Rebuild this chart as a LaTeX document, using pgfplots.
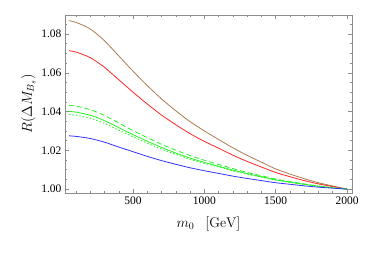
\documentclass[border=0pt]{standalone}
\usepackage{pgfplots}
\pgfplotsset{compat=1.18}
\usepackage{fontspec}
\newfontfamily\timesf{Liberation Serif}
\definecolor{mbrown}{rgb}{0.66,0.49,0.31}
\definecolor{mgreen}{rgb}{0.15,0.95,0.15}
\definecolor{mblue}{rgb}{0.2,0.2,1}
\definecolor{mred}{rgb}{1,0.15,0.15}
\definecolor{frame}{rgb}{0.55,0.55,0.55}
\begin{document}
\begin{tikzpicture}
\useasboundingbox (-65pt,-61pt) rectangle (309pt,193pt);
\begin{axis}[
  at={(0pt,0pt)}, anchor=south west,
  scale only axis, width=287pt, height=178pt,
  xmin=23, xmax=2035, ymin=0.998, ymax=1.0898,
  xtick={500,1000,1500,2000},
  minor xtick={100,200,300,400,600,700,800,900,1100,1200,1300,1400,1600,1700,1800,1900},
  ytick={1.00,1.02,1.04,1.06,1.08},
  minor ytick={1.005,1.01,1.015,1.025,1.03,1.035,1.045,1.05,1.055,1.065,1.07,1.075,1.085},
  tick align=inside,
  major tick length=4pt, minor tick length=2pt,
  axis line style={frame, line width=0.6pt},
  every tick/.style={frame, line width=0.5pt},
  ticklabel style={font=\timesf\fontsize{11.5}{12}\selectfont, text=black},
  /pgf/number format/assume math mode=true,
  /pgf/number format/1000 sep={},
  yticklabel style={/pgf/number format/.cd, fixed, fixed zerofill, precision=2},
  xticklabel style={/pgf/number format/.cd, fixed, precision=0},
  xlabel={$m_0\enspace\;[\mathrm{GeV}]$},
  ylabel={$R(\Delta M_{B_s})$},
  label style={font=\fontsize{14}{16}\selectfont},
  xlabel style={at={(axis description cs:0.5,0)}, anchor=north, yshift=-20pt},
  ylabel style={at={(axis description cs:0,0.5)}, anchor=south, yshift=26pt},
  every axis plot/.append style={line width=0.8pt, smooth, tension=0.5},
]
\addplot[mbrown] coordinates {(50,1.0869)(100,1.0860)(200,1.0826)(300,1.0765)(400,1.0687)(500,1.0608)(600,1.0534)(700,1.0465)(800,1.0404)(900,1.0348)(1000,1.0300)(1100,1.0256)(1200,1.0213)(1300,1.0174)(1400,1.0139)(1500,1.0104)(1600,1.0078)(1700,1.0054)(1800,1.0033)(1900,1.0016)(2000,1.0000)};
\addplot[mred] coordinates {(50,1.0714)(100,1.0707)(200,1.0678)(300,1.0628)(400,1.0564)(500,1.0500)(600,1.0439)(700,1.0382)(800,1.0332)(900,1.0286)(1000,1.0246)(1100,1.0211)(1200,1.0175)(1300,1.0143)(1400,1.0114)(1500,1.0086)(1600,1.0064)(1700,1.0044)(1800,1.0027)(1900,1.0013)(2000,1.0000)};
\addplot[mgreen, dash pattern=on 5pt off 3pt] coordinates {(50,1.0432)(100,1.0428)(200,1.0410)(300,1.0380)(400,1.0341)(500,1.0302)(600,1.0266)(700,1.0231)(800,1.0201)(900,1.0173)(1000,1.0149)(1100,1.0127)(1200,1.0106)(1300,1.0086)(1400,1.0069)(1500,1.0052)(1600,1.0039)(1700,1.0027)(1800,1.0016)(1900,1.0008)(2000,1.0000)};
\addplot[mgreen] coordinates {(50,1.0401)(100,1.0397)(200,1.0381)(300,1.0353)(400,1.0317)(500,1.0281)(600,1.0247)(700,1.0215)(800,1.0186)(900,1.0160)(1000,1.0138)(1100,1.0118)(1200,1.0098)(1300,1.0080)(1400,1.0064)(1500,1.0048)(1600,1.0036)(1700,1.0025)(1800,1.0015)(1900,1.0007)(2000,1.0000)};
\addplot[mgreen, dash pattern=on 1.5pt off 2pt] coordinates {(50,1.0385)(100,1.0381)(200,1.0366)(300,1.0339)(400,1.0304)(500,1.0270)(600,1.0237)(700,1.0206)(800,1.0179)(900,1.0154)(1000,1.0133)(1100,1.0114)(1200,1.0094)(1300,1.0077)(1400,1.0062)(1500,1.0046)(1600,1.0035)(1700,1.0024)(1800,1.0015)(1900,1.0007)(2000,1.0000)};
\addplot[mblue] coordinates {(50,1.0275)(100,1.0272)(200,1.0261)(300,1.0242)(400,1.0217)(500,1.0193)(600,1.0169)(700,1.0147)(800,1.0128)(900,1.0110)(1000,1.0095)(1100,1.0081)(1200,1.0067)(1300,1.0055)(1400,1.0044)(1500,1.0033)(1600,1.0025)(1700,1.0017)(1800,1.0010)(1900,1.0005)(2000,1.0000)};
\end{axis}
\end{tikzpicture}
\end{document}
